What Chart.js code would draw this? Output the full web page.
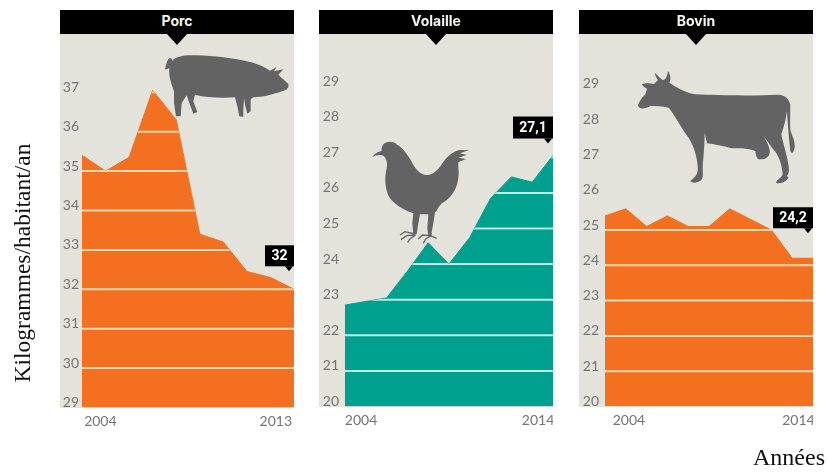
<!DOCTYPE html>
<html>
<head>
<meta charset="utf-8">
<script src="https://cdn.jsdelivr.net/npm/chart.js@4/dist/chart.umd.min.js"></script>
<style>
    html, body { margin: 0; padding: 0; background: #fff; }
    #page { position: relative; width: 828px; height: 473px; overflow: hidden; }
    .bg { position: absolute; background: #e3e2db; }
    .head {
        position: absolute; top: 10px; height: 24px; background: #000; color: #f4f4f0;
        font: 700 14px Inter, sans-serif; line-height: 21px; text-align: center;
    }
    .head:after {
        content: ""; position: absolute; left: 50%; top: 24px; margin-left: -10px;
        border-left: 10px solid transparent; border-right: 10px solid transparent; border-top: 11px solid #000;
    }
    canvas { position: absolute; top: 34px; }
    svg { position: absolute; left: 0; top: 0; }
    .axisname { position: absolute; font-family: "Liberation Serif", serif; color: #111; white-space: nowrap; }
    #ylab { left: 22px; top: 263px; font-size: 23.5px; transform: translate(-50%, -50%) rotate(-90deg); }
    #xlab { left: 753px; top: 444px; font-size: 24px; }
</style>
</head>
<body>
<div id="page">
    <div class="bg" style="left:60px;top:34px;width:234px;height:373.5px"></div>
    <div class="bg" style="left:319px;top:34px;width:234px;height:372.5px"></div>
    <div class="bg" style="left:579px;top:34px;width:234px;height:372.5px"></div>
    <canvas id="porcChart"></canvas>
    <canvas id="volailleChart"></canvas>
    <canvas id="bovinChart"></canvas>
    <div class="head" style="left:60px;width:234px">Porc</div>
    <div class="head" style="left:319px;width:234px">Volaille</div>
    <div class="head" style="left:579px;width:234px">Bovin</div>
    <svg width="828" height="473" fill="#636363">
        <!-- cochon -->
        <g transform="translate(160 48) scale(0.3333)">
            <path d="M15 65 C18 50 22 32 30 30 C38 30 38 40 32 42 L35 40 C45 25 75 20 110 22 C160 24 220 30 270 42 C295 48 315 58 330 68 L350 57 L342 70 L370 64 L355 80 C365 90 378 100 385 108 C388 118 380 127 370 128 C350 135 320 145 290 147 C280 148 275 150 272 155 L272 190 L262 197 L255 170 L252 150 L250 185 L250 207 L238 205 L232 175 L225 148 C190 150 140 150 105 140 L100 160 L112 192 L100 197 L88 165 L80 142 L65 165 L62 205 L48 205 L42 165 L42 130 C35 110 25 85 28 60 Z"></path>
        </g>
        <!-- coq -->
        <g transform="translate(365 135) scale(0.3333)">
            <path d="M22 67 C28 55 40 50 50 48 C48 35 55 25 65 22 C75 18 90 22 97 30 C110 35 125 55 140 80 C155 110 170 120 190 120 C205 118 220 105 232 85 C245 65 265 48 285 45 L312 45 L285 55 L305 60 L280 68 L303 72 L280 82 L280 95 C283 120 280 140 272 160 C262 180 250 195 230 205 C222 215 218 220 215 228 L210 232 L205 265 L200 292 L200 305 L190 305 L187 280 L190 238 L165 238 L160 265 L155 298 L145 298 L142 265 L145 235 C110 222 85 205 72 185 C60 160 58 130 65 100 C68 85 65 70 55 62 C45 58 32 60 22 67 Z"></path>
            <path d="M150 297 L120 290 L105 300 M148 300 L125 302 L108 314 M152 300 L135 312 L128 322 M195 302 L172 300 L160 312 M197 303 L182 312 L175 325 M198 303 L215 310" stroke="#636363" stroke-width="4" fill="none"></path>
        </g>
        <!-- vache -->
        <g transform="translate(632 66) scale(0.3333)">
            <path d="M18 118 C22 105 30 95 40 85 L45 68 C38 65 32 60 30 55 C40 50 55 52 65 55 L78 42 C72 35 70 28 68 20 C75 25 82 35 92 42 C100 42 105 35 108 15 C115 25 118 40 112 50 C130 62 155 78 190 85 C260 88 360 90 440 86 C460 88 470 98 475 115 C475 150 473 180 476 195 C482 215 490 225 488 245 C485 260 480 265 475 255 C472 225 468 185 465 135 C462 160 455 185 448 205 C452 230 465 265 470 300 C472 315 470 325 465 330 L470 335 C460 350 440 355 432 350 C435 340 450 335 452 325 C450 295 440 265 420 245 L395 210 C405 230 418 250 412 265 C405 280 395 280 385 280 C375 282 372 270 370 255 C340 245 320 247 300 247 C270 240 250 235 225 232 L218 200 C218 230 215 270 212 300 C212 320 215 335 208 342 C195 352 180 352 175 345 C185 335 200 330 197 300 C195 270 185 240 170 215 C150 190 130 150 110 125 C90 120 70 120 55 120 C40 130 18 130 18 118 Z"></path>
        </g>
    </svg>
    <div class="axisname" id="ylab">Kilogrammes/habitant/an</div>
    <div class="axisname" id="xlab">Années</div>
</div>

<script>
// valeurs
var yearsPorc = ["2004", "2005", "2006", "2007", "2008", "2009", "2010", "2011", "2012", "2013"];
var valuesPorc = [35.4, 35.0, 35.35, 37.05, 36.3, 33.4, 33.2, 32.45, 32.3, 32.0];

var yearsVolaille = ["2004", "2005", "2006", "2007", "2008", "2009", "2010", "2011", "2012", "2013", "2014"];
var valuesVolaille = [22.85, 22.95, 23.05, 23.8, 24.6, 24.0, 24.75, 25.85, 26.45, 26.3, 27.05];

var yearsBovin = ["2004", "2005", "2006", "2007", "2008", "2009", "2010", "2011", "2012", "2013", "2014"];
var valuesBovin = [25.4, 25.6, 25.1, 25.4, 25.1, 25.1, 25.6, 25.3, 25.0, 24.2, 24.2];

var ORANGE = "#f37021";
var TEAL = "#00a08e";

// lignes blanches seulement dans la zone remplie
var gridInFill = {
    id: "gridInFill",
    afterDatasetsDraw: function(chart, args, opts) {
        var ctx = chart.ctx;
        var area = chart.chartArea;
        var pts = chart.getDatasetMeta(0).data;
        ctx.save();
        ctx.beginPath();
        ctx.moveTo(pts[0].x, area.bottom);
        pts.forEach(function(p) {
            ctx.lineTo(p.x, p.y);
        });
        ctx.lineTo(pts[pts.length - 1].x, area.bottom);
        ctx.closePath();
        ctx.clip();
        ctx.strokeStyle = opts.color;
        ctx.lineWidth = 2;
        chart.scales.y.ticks.forEach(function(t) {
            if (t.value === chart.scales.y.min) return;
            var y = chart.scales.y.getPixelForValue(t.value);
            ctx.beginPath();
            ctx.moveTo(area.left, y);
            ctx.lineTo(area.right, y);
            ctx.stroke();
        });
        ctx.restore();
    }
};

// etiquette noire de la derniere valeur
var lastValueTag = {
    id: "lastValueTag",
    afterDraw: function(chart, args, opts) {
        var ctx = chart.ctx;
        var pts = chart.getDatasetMeta(0).data;
        var last = pts[pts.length - 1];
        var right = chart.chartArea.right;
        var bottom = last.y - opts.gap;
        ctx.save();
        ctx.fillStyle = "#000";
        ctx.fillRect(right - opts.width, bottom - opts.height, opts.width, opts.height);
        ctx.beginPath();
        ctx.moveTo(right - 9, bottom);
        ctx.lineTo(right - 1, bottom);
        ctx.lineTo(right - 5, bottom + 5);
        ctx.closePath();
        ctx.fill();
        ctx.fillStyle = "#fff";
        ctx.font = "700 14px Roboto, sans-serif";
        ctx.textAlign = "center";
        ctx.textBaseline = "middle";
        ctx.fillText(opts.text, right - opts.width / 2, bottom - opts.height / 2 + 1);
        ctx.restore();
    }
};

function drawPanel(id, left, labels, values, color, lineColor, yMin, yMax, top, bottom, yWidth, yPad, firstTick, lastTick, tag) {
    var canvas = document.getElementById(id);
    canvas.style.left = left + "px";
    canvas.width = 234;
    canvas.height = 401;

    new Chart(canvas, {
        type: "line",
        data: {
            labels: labels,
            datasets: [
                {
                    data: values,
                    fill: "start",
                    backgroundColor: color,
                    borderColor: color,
                    borderWidth: 1,
                    tension: 0,
                    pointRadius: 0,
                },
            ],
        },
        plugins: [gridInFill, lastValueTag],
        options: {
            responsive: false,
            animation: false,
            layout: { padding: { top: top - 34 } },
            plugins: {
                legend: { display: false },
                tooltip: { enabled: false },
                gridInFill: { color: lineColor },
                lastValueTag: tag,
            },
            scales: {
                x: {
                    offset: false,
                    grid: { display: false, drawTicks: false },
                    border: { display: false },
                    // les deux annees sont placees un peu vers l'interieur
                    afterBuildTicks: function(scale) {
                        scale.ticks = [{ value: firstTick }, { value: lastTick }];
                    },
                    afterFit: function(scale) {
                        scale.height = 435 - bottom;
                        scale.paddingLeft = 0;
                        scale.paddingRight = 0;
                    },
                    ticks: {
                        autoSkip: false,
                        maxRotation: 0,
                        padding: 6,
                        color: "#747474",
                        font: { family: "Lato", size: 14 },
                        callback: function(v, i) {
                            return i === 0 ? labels[0] : labels[labels.length - 1];
                        },
                    },
                },
                y: {
                    min: yMin,
                    max: yMax,
                    grid: { display: false, drawTicks: false },
                    border: { display: false },
                    afterFit: function(scale) {
                        scale.width = yWidth;
                        scale.paddingTop = 0;
                        scale.paddingBottom = 0;
                    },
                    ticks: {
                        stepSize: 1,
                        includeBounds: false,
                        padding: yPad,
                        labelOffset: -5,
                        color: "#747474",
                        font: { family: "Lato", size: 14 },
                    },
                },
            },
        },
    });
}

drawPanel("porcChart", 60, yearsPorc, valuesPorc, ORANGE, "#fbd8b4", 29, 37.5, 72.6, 407.5, 22, 3, 0.78, 8.23,
    { text: "32", width: 29, height: 21, gap: 23 });
drawPanel("volailleChart", 319, yearsVolaille, valuesVolaille, TEAL, "#b9efe6", 20, 29.5, 68.3, 406.5, 26, 6, 0.77, 9.28,
    { text: "27,1", width: 40, height: 22, gap: 17 });
drawPanel("bovinChart", 579, yearsBovin, valuesBovin, ORANGE, "#fbd8b4", 20, 29.5, 71.2, 406.5, 26, 6, 1.15, 9.3,
    { text: "24,2", width: 40, height: 21, gap: 30 });
</script>
</body>
</html>
